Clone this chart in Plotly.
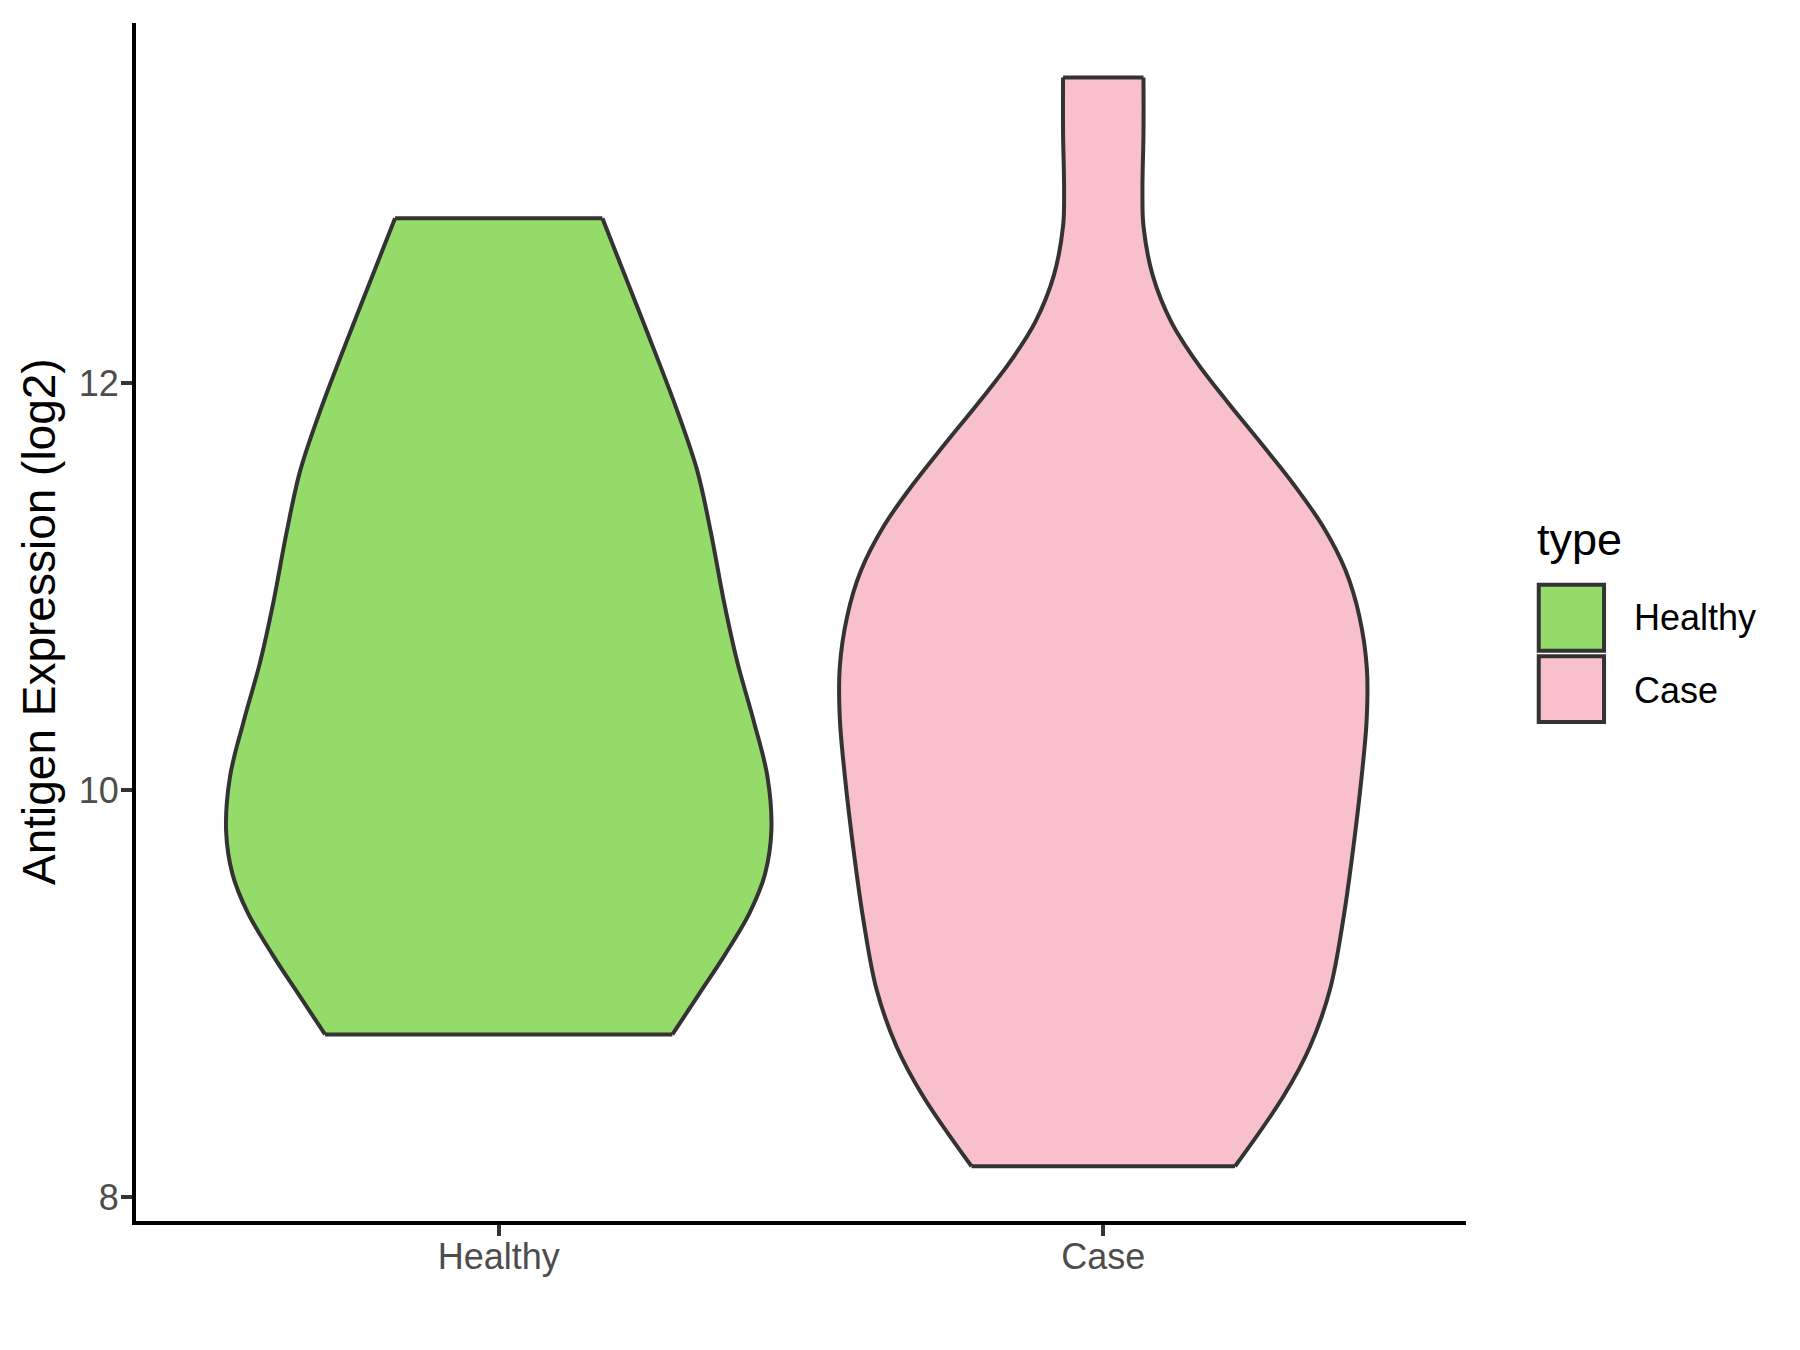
import plotly.graph_objects as go

# ---- data ----
categories = ["Healthy", "Case"]
fill_colors = ["#94DB6A", "#F8C0CB"]

# violin profile: y values (log2 expression) and half-widths (in category units)
healthy_y = [8.799, 9.001, 9.188, 9.398, 9.586, 9.802, 10.068, 10.333, 10.628,
             10.923, 11.272, 11.567, 11.862, 12.290, 12.811]
healthy_w = [0.2873, 0.3321, 0.3735, 0.4152, 0.4403, 0.4510, 0.4444, 0.4224, 0.3948,
             0.3728, 0.3506, 0.3287, 0.2956, 0.2405, 0.1715]

case_y = [8.151, 8.495, 8.740, 9.021, 9.371, 9.722, 10.073, 10.353, 10.600, 10.852,
          11.078, 11.298, 11.500, 11.700, 11.908, 12.105, 12.302, 12.528,
          12.773, 12.949, 13.229, 13.503]
case_w = [0.2180, 0.2980, 0.3420, 0.3751, 0.3973, 0.4138, 0.4276, 0.4358, 0.4360, 0.4238,
          0.4010, 0.3630, 0.3156, 0.2624, 0.2054, 0.1542, 0.1124, 0.0820,
          0.0665, 0.0648, 0.0665, 0.0665]

y_ticks = [8, 10, 12]
y_title = "Antigen Expression (log2)"
legend_title = "type"

profiles = [(healthy_y, healthy_w), (case_y, case_w)]

FONT = "Liberation Sans, Arial, sans-serif"
OUTLINE = "#333333"

fig = go.Figure()
for i, (cat, (ys, ws)) in enumerate(zip(categories, profiles)):
    pos = i + 1
    left = [pos - w for w in ws]
    right = [pos + w for w in ws]
    fig.add_trace(go.Scatter(x=left, y=ys, mode="lines",
                             line=dict(color=OUTLINE, width=4, shape="spline"),
                             showlegend=False, hoverinfo="skip"))
    fig.add_trace(go.Scatter(x=right, y=ys, mode="lines", fill="tonextx",
                             fillcolor=fill_colors[i], name=cat,
                             line=dict(color=OUTLINE, width=4, shape="spline"),
                             showlegend=False, hoverinfo="skip"))
    # flat trimmed ends
    fig.add_trace(go.Scatter(x=[left[0], right[0], None, left[-1], right[-1]],
                             y=[ys[0], ys[0], None, ys[-1], ys[-1]], mode="lines",
                             line=dict(color=OUTLINE, width=4),
                             showlegend=False, hoverinfo="skip"))

# manual legend (ggplot style square keys)
key_y = [(0.4760, 0.5311), (0.4165, 0.4714)]
label_y = [0.5038, 0.4426]
shapes = []
annotations = []
for i, cat in enumerate(categories):
    shapes.append(dict(type="rect", xref="paper", yref="paper",
                       x0=1.0547, x1=1.1038, y0=key_y[i][0], y1=key_y[i][1],
                       fillcolor=fill_colors[i], line=dict(color=OUTLINE, width=4)))
    annotations.append(dict(text=cat, xref="paper", yref="paper", x=1.1246, y=label_y[i],
                            xanchor="left", yanchor="middle", showarrow=False,
                            font=dict(family=FONT, size=36, color="black")))
annotations.append(dict(text=legend_title, xref="paper", yref="paper", x=1.0519, y=0.5688,
                        xanchor="left", yanchor="middle", showarrow=False,
                        font=dict(family=FONT, size=45, color="black")))
annotations.append(dict(text=y_title, xref="paper", yref="paper", x=-0.0729, y=0.5,
                        xanchor="center", yanchor="middle", textangle=-90, showarrow=False,
                        font=dict(family=FONT, size=46, color="black")))

fig.update_layout(
    width=1800, height=1350,
    margin=dict(l=128, r=342, t=15, b=137),
    plot_bgcolor="white", paper_bgcolor="white",
    showlegend=False,
    shapes=shapes, annotations=annotations,
    font=dict(family=FONT),
    xaxis=dict(range=[0.4, 2.6], tickvals=[1, 2], ticktext=categories,
               showline=True, linecolor="black", linewidth=4, mirror=False,
               ticks="outside", ticklen=11, tickwidth=4, tickcolor=OUTLINE,
               showgrid=False, zeroline=False, ticklabelstandoff=-10,
               tickfont=dict(family=FONT, size=36, color="#4D4D4D")),
    yaxis=dict(range=[7.882, 13.771], tickvals=y_ticks,
               showline=True, linecolor="black", linewidth=4, mirror=False,
               ticks="outside", ticklen=11, tickwidth=4, tickcolor=OUTLINE,
               showgrid=False, zeroline=False, ticklabelstandoff=-5,
               tickfont=dict(family=FONT, size=36, color="#4D4D4D")),
)

fig.write_html("out.html")
